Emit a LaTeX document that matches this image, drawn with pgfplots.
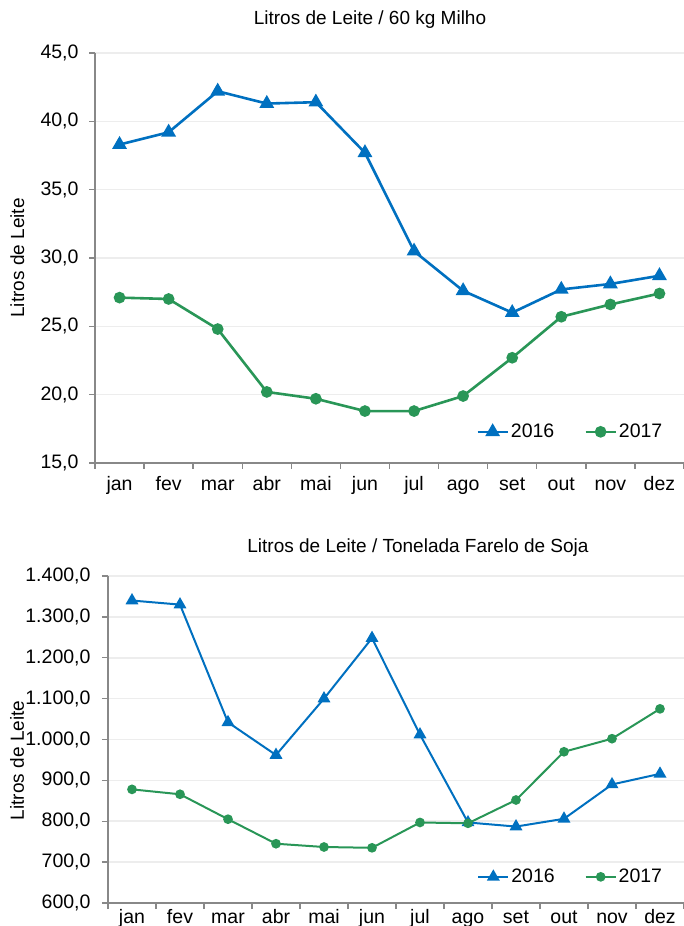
\documentclass[border=0pt]{standalone}
\usepackage{fontspec}
\setmainfont{Liberation Sans}
\usepackage{pgfplots}
\pgfplotsset{compat=1.18}
\definecolor{azul16}{RGB}{0,112,192}
\definecolor{verde17}{RGB}{41,150,87}
\definecolor{eixo}{RGB}{136,136,136}

\pgfplotsset{
  leite/.style={
    scale only axis,
    xmin=0.5, xmax=12.5,
    axis lines*=left,
    axis line style={draw=eixo, line width=1.6pt},
    tick style={draw=eixo, line width=1.4pt},
    major tick length=6pt,
    tick align=outside,
    xtick={0.5,1.5,...,12.5}, xticklabels={},
    extra x ticks={1,...,12},
    extra x tick labels={jan,fev,mar,abr,mai,jun,jul,ago,set,out,nov,dez},
    extra x tick style={major tick length=0pt, grid=none},
    ymajorgrids, grid style={draw=black!7, line width=1.6pt},
    tick label style={font=\fontsize{19.5}{22}\selectfont},
    xticklabel style={text height=14pt, text depth=4pt},
    /pgf/number format/assume math mode=true,
    /pgf/number format/fixed,
    /pgf/number format/fixed zerofill,
    /pgf/number format/precision=1,
    /pgf/number format/use comma,
    ylabel={Litros de Leite},
    label style={font=\fontsize{19}{22}\selectfont},
    legend columns=2,
    legend style={draw=none, fill=none, font=\fontsize{19.5}{22}\selectfont,
      /tikz/every even column/.append style={column sep=28pt}},
    legend image code/.code={\draw[mark repeat=2, mark phase=2] plot coordinates {(0pt,0pt) (15pt,0pt) (30pt,0pt)};},
  }
}

\begin{document}
\begin{tikzpicture}
% Litros de leite por 60 kg de milho
\begin{axis}[leite,
  at={(95pt,463pt)}, anchor=south west,
  width=589pt, height=410pt,
  ymin=15, ymax=45, ytick={15,20,...,45},
  yticklabel style={xshift=-7pt},
  xticklabel style={yshift=-10pt},
  ylabel style={at={(axis description cs:-0.132,0.5)}, anchor=center},
  legend style={at={(0.972,0.076)}, anchor=east}]
\addplot[azul16, line width=2.6pt, mark=triangle*, mark size=6pt] coordinates {
(1,38.3) (2,39.2) (3,42.2) (4,41.3) (5,41.4) (6,37.7)
(7,30.5) (8,27.6) (9,26.0) (10,27.7) (11,28.1) (12,28.7)};
\addlegendentry{2016}
\addplot[verde17, line width=2.6pt, mark=*, mark size=4.5pt] coordinates {
(1,27.1) (2,27.0) (3,24.8) (4,20.2) (5,19.7) (6,18.8)
(7,18.8) (8,19.9) (9,22.7) (10,25.7) (11,26.6) (12,27.4)};
\addlegendentry{2017}
\end{axis}
\node[font=\fontsize{19}{22}\selectfont] at (370pt,906pt) {Litros de Leite / 60 kg Milho};

% Litros de leite por tonelada de farelo de soja
\begin{axis}[leite,
  at={(108pt,23pt)}, anchor=south west,
  width=576pt, height=327pt,
  ymin=600, ymax=1400, ytick={600,700,...,1400},
  yticklabel style={xshift=-8pt},
  xticklabel style={yshift=-3pt},
  ylabel style={at={(axis description cs:-0.158,0.436)}, anchor=center},
  legend style={at={(0.971,0.08)}, anchor=east}]
\addplot[azul16, line width=2pt, mark=triangle*, mark size=5.5pt] coordinates {
(1,1340) (2,1330) (3,1042) (4,962) (5,1100) (6,1248)
(7,1012) (8,797) (9,787) (10,806) (11,890) (12,916)};
\addlegendentry{2016}
\addplot[verde17, line width=2pt, mark=*, mark size=3.8pt] coordinates {
(1,878) (2,866) (3,805) (4,745) (5,737) (6,735)
(7,797) (8,795) (9,852) (10,970) (11,1002) (12,1075)};
\addlegendentry{2017}
\end{axis}
\node[font=\fontsize{19}{22}\selectfont] at (418pt,378pt) {Litros de Leite / Tonelada Farelo de Soja};

\pgfresetboundingbox
\useasboundingbox (0pt,0pt) rectangle (684pt,926pt);
\end{tikzpicture}
\end{document}
